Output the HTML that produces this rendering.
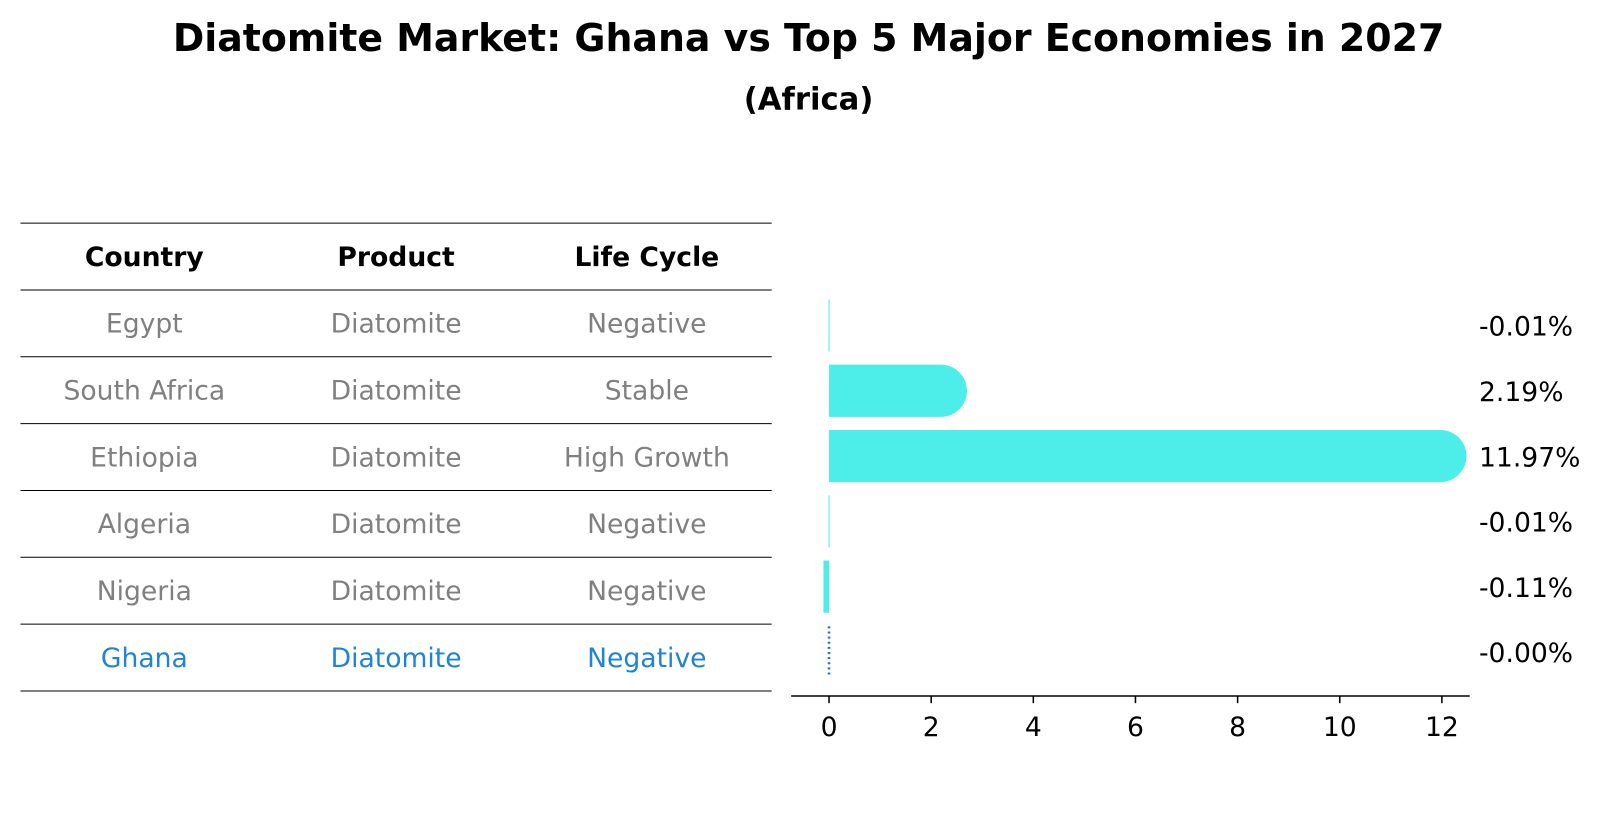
<!DOCTYPE html>
<html><head><meta charset="utf-8"><style>
body{margin:0;background:#fff;font-family:"Liberation Sans","DejaVu Sans",sans-serif}
</style></head><body>
<svg id="c" width="1604" height="823" viewBox="0 0 1604 823" xmlns="http://www.w3.org/2000/svg">
<g transform="scale(1.0235)">
<text x="790" y="50" text-anchor="middle" font-size="37" font-weight="bold" font-family="DejaVu Sans, sans-serif">Diatomite Market: Ghana vs Top 5 Major Economies in 2027</text>
<text x="790" y="107" text-anchor="middle" font-size="30" font-weight="bold" font-family="DejaVu Sans, sans-serif">(Africa)</text>
<g id="tbl"></g>
<g id="bars"></g>
</g>
</svg>
<script>
const countries=["Egypt","South Africa","Ethiopia","Algeria","Nigeria","Ghana"];
const products=["Diatomite","Diatomite","Diatomite","Diatomite","Diatomite","Diatomite"];
const lifeCycles=["Negative","Stable","High Growth","Negative","Negative","Negative"];
const values=[-0.01,2.19,11.97,-0.01,-0.11,-0.00];
const valueLabels=["-0.01%","2.19%","11.97%","-0.01%","-0.11%","-0.00%"];
const ticks=[0,2,4,6,8,10,12];
const NS="http://www.w3.org/2000/svg";
function mk(t,a,p){const e=document.createElementNS(NS,t);for(const k in a)e.setAttribute(k,a[k]);p.appendChild(e);return e;}
const font="DejaVu Sans, sans-serif";
const tbl=document.getElementById('tbl');
const rowTop=218,rowH=65.3,cols=[141,387,632];
for(let i=0;i<=countries.length+1;i++){
  const l=mk('line',{x1:20,x2:754,y1:rowTop+i*rowH,y2:rowTop+i*rowH,stroke:'#000','stroke-width':1},tbl);
  
  
}
["Country","Product","Life Cycle"].forEach((h,j)=>{
  const t=mk('text',{x:cols[j],y:rowTop+rowH/2+9,'text-anchor':'middle','font-size':26,'font-weight':'bold','font-family':font},tbl);
  t.textContent=h;
  
  
});
countries.forEach((c,i)=>{
  const y=rowTop+rowH*(i+1)+rowH/2+9;
  const col=c==="Ghana"?"#1f83d6":"#808080";
  [c,products[i],lifeCycles[i]].forEach((v,j)=>{
    const t=mk('text',{x:cols[j],y:y,'text-anchor':'middle','font-size':26,fill:col,'font-family':font},tbl);
    t.textContent=v;
    
    
  });
});
const g=document.getElementById('bars');
const x0=810,xs=49.9;
const X=v=>x0+v*xs;
const bh=51;
const Y=i=>318+i*63.8;
values.forEach((v,i)=>{
  const cy=Y(i);
  if(countries[i]==="Ghana"){
    const l=mk('line',{x1:X(0),x2:X(0),y1:cy-25,y2:cy+25,stroke:'#1f6fd0','stroke-width':2.5,'stroke-dasharray':'2,3'},g);
    
    
  } else {
    let a=Math.min(X(0),X(v)),b=Math.max(X(0),X(v));
    if(b-a<1){b=a+1;}
    let d;
    const r=bh/2;
    if(v>1){d=`M${a},${cy-r}H${b}A${r},${r} 0 0 1 ${b},${cy+r}H${a}Z`;}
    else d=`M${a},${cy-r}H${b}V${cy+r}H${a}Z`;
    const p=mk('path',{d:d,fill:'#4deeea'},g);
    
    
  }
  const t=mk('text',{x:1445,y:cy+10,'font-size':26,'font-family':font},g);
  t.textContent=valueLabels[i];
  
  
});
const ax=mk('line',{x1:773,x2:1436,y1:680,y2:680,stroke:'#000','stroke-width':1.5},g);


ticks.forEach(t=>{
  const l=mk('line',{x1:X(t),x2:X(t),y1:680,y2:687,stroke:'#000','stroke-width':1.5},g);
  
  
  const tx=mk('text',{x:X(t),y:719,'text-anchor':'middle','font-size':26,'font-family':font},g);
  tx.textContent=t;
  
  
});
</script>
</body></html>
